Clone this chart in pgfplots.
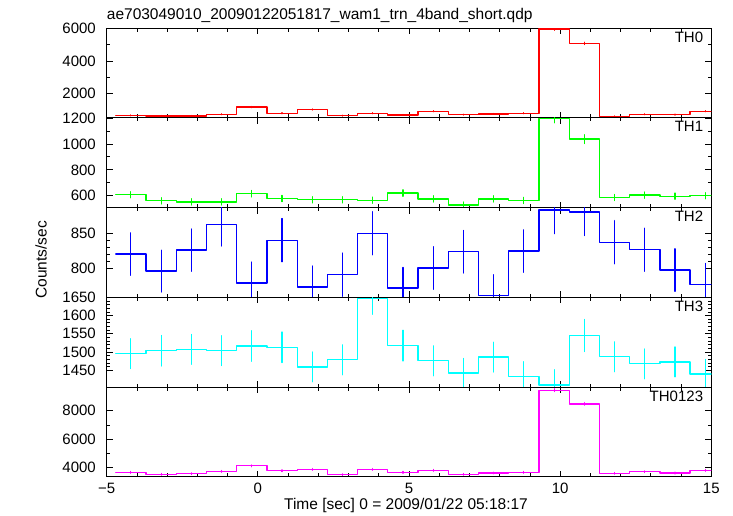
\documentclass[border=0pt]{standalone}
\usepackage{fontspec}
\setmainfont{Liberation Sans}
\usepackage{pgfplots}
\pgfplotsset{compat=1.18}
\usepackage{pgfplotstable}

\definecolor{cR}{RGB}{255,0,0}
\definecolor{cG}{RGB}{0,255,0}
\definecolor{cB}{RGB}{0,0,255}
\definecolor{cC}{RGB}{0,255,255}
\definecolor{cM}{RGB}{255,0,255}

% columns: bin centre (s), rate (counts/s), error; last row closes the final step at x=15
\pgfplotstableread{
x y e
-4.2 680 26
-3.2 646 25
-2.2 646 25
-1.2 750 27
-0.2 1187 34
0.8 812 28
1.8 1042 32
2.8 667 26
3.8 812 28
4.8 708 27
5.8 937 31
6.8 729 27
7.8 771 28
8.8 812 28
9.8 5960 77
10.8 5083 71
11.8 625 25
12.8 750 27
13.8 729 27
14.8 937 31
15.5 937 0
}\thzero

\pgfplotstableread{
x y e
-4.2 608 24
-3.2 561 24
-2.2 553 24
-1.2 553 24
-0.2 616 25
0.8 579 24
1.8 569 24
2.8 569 24
3.8 566 24
4.8 621 25
5.8 576 24
6.8 529 23
7.8 576 24
8.8 564 24
9.8 1195 32
10.8 1037 34
11.8 587 24
12.8 605 25
13.8 597 24
14.8 600 24
15.5 600 0
}\thone

\pgfplotstableread{
x y e
-4.2 820 30.5
-3.2 795.7 30
-2.2 825.7 30.5
-1.2 862.4 31
-0.2 778.6 30
0.8 840 31
1.8 772.9 30
2.8 790.5 31
3.8 850 31
4.8 771.4 29.5
5.8 800 30.5
6.8 823.3 30.5
7.8 761 29.5
8.8 824.3 30.5
9.8 883.3 34
10.8 880.5 34
11.8 837.1 31
12.8 826.2 31
13.8 797.1 30.5
14.8 776.2 30.5
15.5 776.2 0
}\thtwo

\pgfplotstableread{
x y e
-4.2 1495.4 41
-3.2 1503.7 42
-2.2 1507.4 41
-1.2 1503.7 41
-0.2 1516.7 42
0.8 1513 42
1.8 1459.3 41
2.8 1478.7 41
3.8 1646.3 43
4.8 1517.6 42
5.8 1476 41
6.8 1442.6 40
7.8 1486 41
8.8 1433.3 40
9.8 1409.3 42
10.8 1545.4 44
11.8 1487 41
12.8 1467.6 41
13.8 1473 41
14.8 1439.8 40
15.5 1439.8 0
}\ththree

\pgfplotstableread{
x y e
-4.2 3655 60
-3.2 3517 59
-2.2 3563 60
-1.2 3724 61
-0.2 4115 64
0.8 3770 61
1.8 3862 62
2.8 3494 59
3.8 3862 62
4.8 3655 60
5.8 3793 62
6.8 3517 59
7.8 3609 60
8.8 3655 60
9.8 9449 97
10.8 8483 92
11.8 3586 60
12.8 3701 61
13.8 3609 60
14.8 3793 62
15.5 3793 0
}\thsum

\pgfplotsset{
  panel/.style={
    scale only axis, width=604.6pt, height=89.68pt,
    anchor=north west,
    xmin=-5, xmax=15,
    xtick={-5,0,5,10,15}, minor x tick num=4,
    xticklabels={},
    tick align=inside, tick pos=both,
    major tick length=6pt, minor tick length=3.5pt,
    axis line style={line width=1pt, black},
    tick style={black, line width=0.8pt},
    clip mode=individual,
    /pgf/number format/assume math mode=true,
    /pgf/number format/1000 sep={},
    yticklabel style={font=\fontsize{15}{18}\selectfont, xshift=-5.5pt},
    xticklabel style={font=\fontsize{15}{18}\selectfont, yshift=-1.3pt},
  },
}

\newcommand{\steps}[2]{%
  \addplot[draw=#2, line width=1.3pt, line join=round, line cap=round,
    mark=none, const plot mark left]
    table[x expr=\thisrow{x}-0.5, y=y]{#1};
  \addplot[draw=none, mark=none, forget plot,
    error bars/.cd, y dir=both, y explicit, error mark=none,
    error bar style={draw=#2, line width=1.2pt, line cap=round}]
    table[x=x, y=y, y error=e]{#1};
}
\newcommand{\plabel}[1]{%
  \node[anchor=north east, inner sep=0pt, font=\fontsize{15}{18}\selectfont]
    at (rel axis cs:1,1) [xshift=-8pt, yshift=-3.4pt] {#1};
}

\begin{document}
\fontsize{15.5}{18}\selectfont
\begin{tikzpicture}
\useasboundingbox (0,0) rectangle (733pt,516pt);

\begin{axis}[panel, at={(106.7pt,487.7pt)}, ymin=523, ymax=6005,
  ytick={2000,4000,6000}, minor y tick num=1]
\steps{\thzero}{cR}
\plabel{TH0}
\end{axis}

\begin{axis}[panel, at={(106.7pt,398.02pt)}, ymin=508.5, ymax=1200,
  ytick={600,800,1000,1200}, minor y tick num=1]
\steps{\thone}{cG}
\plabel{TH1}
\end{axis}

\begin{axis}[panel, at={(106.7pt,308.34pt)}, ymin=758, ymax=886.6,
  ytick={800,850}, minor y tick num=4]
\steps{\thtwo}{cB}
\plabel{TH2}
\end{axis}

\begin{axis}[panel, at={(106.7pt,218.66pt)}, ymin=1404, ymax=1650,
  ytick={1450,1500,1550,1600,1650}, minor y tick num=4]
\steps{\ththree}{cC}
\plabel{TH3}
\end{axis}

\begin{axis}[panel, at={(106.7pt,128.98pt)}, ymin=3350, ymax=9670,
  ytick={4000,6000,8000}, minor y tick num=1,
  xticklabels={−5,0,5,10,15}]
\steps{\thsum}{cM}
\plabel{TH0123}
\end{axis}

\node[anchor=base west, inner sep=0pt] at (106.7pt,496pt)
  {ae703049010\_20090122051817\_wam1\_trn\_4band\_short.qdp};
\node[rotate=90, anchor=base, inner sep=0pt] at (46.5pt,256pt) {Counts/sec};
\node[anchor=base, inner sep=0pt] at (406pt,6.7pt) {Time [sec] 0 = 2009/01/22 05:18:17};
\end{tikzpicture}
\end{document}
